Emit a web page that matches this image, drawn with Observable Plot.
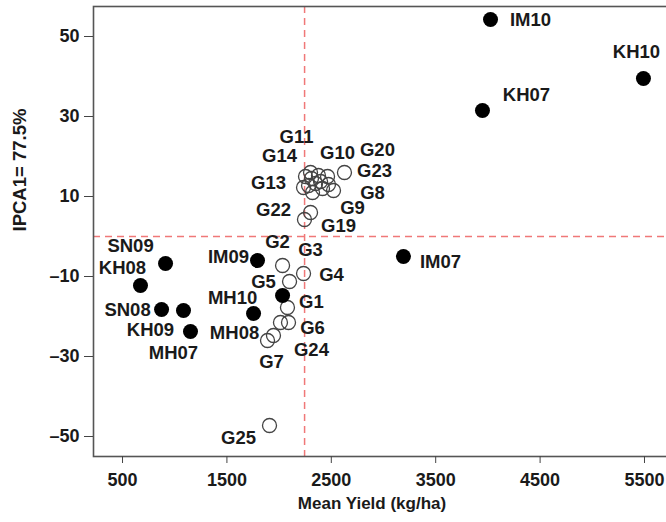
<!DOCTYPE html>
<html><head><meta charset="utf-8">
<script src="https://cdn.jsdelivr.net/npm/d3@7"></script>
<script src="https://cdn.jsdelivr.net/npm/@observablehq/plot@0.6"></script>
<style>body{margin:0;background:#fff}</style>
</head><body><div id="chart"></div>
<script>
// Environments (filled dots)
const envNames = ["IM07","IM09","IM10","KH07","KH08","KH09","KH10","MH07","MH08","MH10","SN08","SN09"];
const envYield = [3191,1793,4025,3948,672,1084,5490,1151,1755,2033,874,912];
const envIPCA1 = [-5,-6,54.25,31.5,-12.25,-18.5,39.5,-23.75,-19.25,-14.75,-18.25,-6.75];

// Genotypes (open circles)
const genNames = ["G1","G2","G3","G4","G5","G6","G7","G8","G9","G10","G11","G12","G13","G14","G15","G16","G17","G18","G19","G20","G21","G22","G23","G24","G25"];
const genYield = [2080,2033,1946,2234,2100,2090,1889,2521,2416,2464,2301,2377,2234,2253,2349,2282,2320,2397,2301,2626,2310,2243,2473,2013,1908];
const genIPCA1 = [-17.75,-7.25,-24.75,-9.25,-11.25,-21.5,-26,11.5,12,15,16,15.25,12.25,15,13.25,12.75,11,13.75,6,16,14.5,4.25,13,-21.5,-47.25];

const xTicks = [500,1500,2500,3500,4500,5500];
const yTicks = [-50,-30,-10,10,30,50];
const xTitle = "Mean Yield (kg/ha)";
const yTitle = "IPCA1= 77.5%";

// label placement (pixel offsets, style only)
const labelOffset = {
  IM07:[37,6], IM09:[-29,-3], IM10:[40,1], KH07:[44,-15], KH08:[-18,-17], KH09:[-33,20],
  KH10:[-7,-26], MH07:[-17,22], MH08:[-19,20], MH10:[-50,3], SN08:[-34,1], SN09:[-35,-17],
  G1:[24,-5], G2:[-5,-23], G3:[37,-85], G4:[28,2], G5:[-26,1], G6:[24,6], G7:[4,22],
  G8:[39,3], G9:[30,20], G10:[10,-23], G11:[-14,-35], G13:[-35,-4], G14:[-26,-20],
  G19:[28,14], G20:[33,-22], G22:[-31,-9], G23:[46,-13], G24:[31,28], G25:[-31,13]
};

const envs = envNames.map((name,i)=>({name, x: envYield[i], y: envIPCA1[i]}));
const gens = genNames.map((name,i)=>({name, x: genYield[i], y: genIPCA1[i]}));
const meanYield = d3.mean(envYield);
const all = [...envs, ...gens];

const font = "'Liberation Sans', Arial, sans-serif";
const labelMarks = all.filter(d => labelOffset[d.name]).map(d =>
  Plot.text([d], {x:"x", y:"y", text:"name", dx: labelOffset[d.name][0], dy: labelOffset[d.name][1],
    fontSize:18.5, fontWeight:"bold", fill:"#1a1a1a"}));

const dash = {stroke:"#f07878", strokeDasharray:"7,5", strokeWidth:1.5};

const chart = Plot.plot({
  width:666, height:522,
  marginLeft:93, marginTop:6, marginBottom:66, marginRight:-2,
  style:{fontFamily:font, background:"#fff", color:"#1a1a1a"},
  x:{domain:[222,5730]},
  y:{domain:[-55,57.5]},
  marks:[
    Plot.ruleX([meanYield], {x:d=>d, ...dash}),
    Plot.ruleY([0], {y:d=>d, ...dash}),
    Plot.frame({stroke:"#555", strokeWidth:1.6}),
    Plot.axisX({ticks:xTicks, tickSize:7, tickPadding:10, fontSize:18, fontWeight:"bold", label:null, stroke:"#444", tickFormat:d=>String(d)}),
    Plot.axisY({ticks:yTicks, tickSize:9, tickPadding:5, fontSize:18, fontWeight:"bold", label:null, stroke:"#444", tickFormat:d=> d<0 ? "\u2013"+Math.abs(d) : String(d)}),
    Plot.dot(gens, {x:"x", y:"y", r:7, stroke:"#444", strokeWidth:1.3, fill:"none"}),
    Plot.dot(envs, {x:"x", y:"y", r:7.5, fill:"#000", stroke:"none"}),
    ...labelMarks,
    Plot.text([xTitle], {frameAnchor:"bottom", lineAnchor:"middle", dy:47, dx:-9, fontSize:17, fontWeight:"bold", fill:"#1a1a1a"}),
    Plot.text([yTitle], {frameAnchor:"left", lineAnchor:"middle", dx:-73, rotate:-90, fontSize:18.5, fontWeight:"bold", fill:"#1a1a1a"})
  ]
});
document.getElementById("chart").append(chart);
</script>
</body></html>
